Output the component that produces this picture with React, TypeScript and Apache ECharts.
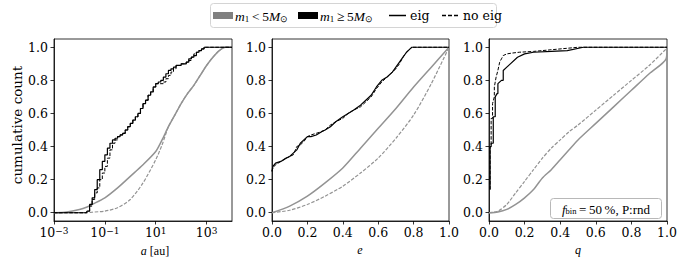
import React, { useEffect, useRef } from "react";
import * as echarts from "echarts";

// ---------- tick values ----------
const yTicks = [0, 0.2, 0.4, 0.6, 0.8, 1.0];
const aTicks = [0.001, 0.1, 10, 1000];
const linTicks = [0, 0.2, 0.4, 0.6, 0.8, 1.0];

// ---------- panel a : log10(a [au]) grids and cumulative fractions ----------
const aLogGridLow = [-3, -2.5, -2, -1.7, -1.5, -1, -0.5, 0, 0.5, 1, 1.25, 1.5, 1.75, 2, 2.25, 2.5, 2.75, 3, 3.25, 3.5, 3.75, 4];
const aLowEig = [0, 0.005, 0.02, 0.035, 0.05, 0.09, 0.15, 0.22, 0.29, 0.37, 0.44, 0.52, 0.59, 0.66, 0.72, 0.77, 0.83, 0.89, 0.94, 0.98, 1.0, 1.0];
const aLowNoEig = [0, 0, 0, 0, 0.003, 0.01, 0.03, 0.08, 0.18, 0.32, 0.41, 0.52, 0.59, 0.66, 0.72, 0.77, 0.83, 0.89, 0.94, 0.98, 1.0, 1.0];

const aLogGridHigh = [-3, -1.72, -1.7, -1.6, -1.5, -1.4, -1.3, -1.2, -1.1, -1.0, -0.9, -0.8, -0.7, -0.6, -0.5, -0.4, -0.3, -0.2, -0.1, 0, 0.1, 0.2, 0.3, 0.4, 0.5, 0.6, 0.7, 0.8, 0.9, 1.0, 1.1, 1.2, 1.3, 1.4, 1.5, 1.6, 1.7, 1.8, 1.9, 2.0, 2.1, 2.2, 2.3, 2.4, 2.5, 2.6, 2.7, 2.8, 2.9, 4];
const aHighEig = [0, 0, 0.01, 0.05, 0.09, 0.14, 0.20, 0.26, 0.31, 0.35, 0.39, 0.42, 0.44, 0.45, 0.46, 0.47, 0.48, 0.50, 0.52, 0.54, 0.56, 0.58, 0.60, 0.63, 0.66, 0.68, 0.71, 0.73, 0.76, 0.78, 0.79, 0.80, 0.82, 0.84, 0.86, 0.87, 0.88, 0.89, 0.89, 0.90, 0.90, 0.91, 0.93, 0.94, 0.95, 0.97, 0.98, 0.99, 1.0, 1.0];
const aHighNoEig = [0, 0, 0.01, 0.04, 0.08, 0.12, 0.15, 0.20, 0.24, 0.28, 0.33, 0.38, 0.42, 0.44, 0.46, 0.47, 0.48, 0.50, 0.52, 0.54, 0.56, 0.58, 0.60, 0.63, 0.66, 0.68, 0.71, 0.73, 0.76, 0.78, 0.78, 0.78, 0.79, 0.81, 0.83, 0.85, 0.87, 0.89, 0.89, 0.90, 0.90, 0.91, 0.92, 0.94, 0.96, 0.97, 0.98, 0.99, 1.0, 1.0];

// ---------- panel e ----------
const eGridLow = [0, 0.1, 0.2, 0.3, 0.4, 0.5, 0.6, 0.7, 0.8, 0.9, 1.0];
const eLowEig = [0, 0.04, 0.10, 0.18, 0.27, 0.39, 0.51, 0.63, 0.76, 0.88, 1.0];
const eLowNoEig = [0, 0.015, 0.05, 0.10, 0.16, 0.24, 0.33, 0.45, 0.59, 0.78, 1.0];

const eGridHigh = [0, 0.005, 0.02, 0.05, 0.08, 0.10, 0.12, 0.14, 0.16, 0.18, 0.20, 0.22, 0.25, 0.28, 0.30, 0.33, 0.36, 0.40, 0.43, 0.46, 0.50, 0.53, 0.56, 0.59, 0.62, 0.65, 0.68, 0.70, 0.72, 0.74, 0.76, 0.78, 0.79, 1.0];
const eHighEig = [0.25, 0.28, 0.30, 0.31, 0.33, 0.34, 0.36, 0.38, 0.42, 0.44, 0.46, 0.46, 0.47, 0.49, 0.50, 0.52, 0.55, 0.58, 0.60, 0.62, 0.65, 0.68, 0.71, 0.76, 0.80, 0.82, 0.85, 0.88, 0.91, 0.94, 0.97, 0.99, 1.0, 1.0];
const eHighNoEig = [0.25, 0.27, 0.29, 0.31, 0.33, 0.34, 0.35, 0.40, 0.41, 0.43, 0.46, 0.47, 0.48, 0.49, 0.50, 0.53, 0.55, 0.57, 0.60, 0.62, 0.64, 0.67, 0.70, 0.75, 0.79, 0.82, 0.85, 0.87, 0.90, 0.94, 0.97, 0.99, 1.0, 1.0];

// ---------- panel q ----------
const qGridLow = [0, 0.05, 0.1, 0.15, 0.2, 0.25, 0.3, 0.35, 0.4, 0.45, 0.5, 0.6, 0.7, 0.8, 0.9, 0.995, 1.0];
const qLowEig = [0, 0.005, 0.02, 0.05, 0.09, 0.14, 0.21, 0.26, 0.32, 0.38, 0.44, 0.54, 0.64, 0.74, 0.84, 0.93, 1.0];
const qLowNoEig = [0, 0.01, 0.05, 0.12, 0.19, 0.26, 0.33, 0.39, 0.44, 0.49, 0.53, 0.62, 0.71, 0.80, 0.89, 0.99, 1.0];

const qGridHighEig = [0.006, 0.006, 0.012, 0.012, 0.024, 0.024, 0.035, 0.035, 0.045, 0.05, 0.05, 0.07, 0.08, 0.08, 0.1, 0.12, 0.16, 0.2, 0.25, 0.35, 0.44, 0.53, 1.0];
const qHighEig = [0.14, 0.40, 0.40, 0.42, 0.42, 0.58, 0.58, 0.70, 0.72, 0.72, 0.78, 0.80, 0.80, 0.86, 0.88, 0.90, 0.94, 0.96, 0.97, 0.975, 0.98, 1.0, 1.0];
const qGridHighNoEig = [0.006, 0.006, 0.012, 0.012, 0.02, 0.02, 0.03, 0.03, 0.04, 0.05, 0.06, 0.07, 0.08, 0.1, 0.13, 0.17, 0.25, 0.35, 0.5, 1.0];
const qHighNoEig = [0.14, 0.40, 0.40, 0.57, 0.57, 0.66, 0.70, 0.76, 0.82, 0.86, 0.91, 0.93, 0.95, 0.96, 0.965, 0.97, 0.975, 0.985, 1.0, 1.0];

// ---------- labels ----------
const xLabels = ["a", "e", "q"];
const yLabel = "cumulative count";

const GRAY = "#939393";
const BLACK = "#000";
const SERIF = '"DejaVu Serif"';
const TIMES = '"Liberation Serif"';

const pairs = (xs: number[], ys: number[]) => xs.map((x, i) => [x, ys[i]]);
const pow10 = (xs: number[]) => xs.map((l) => Math.pow(10, l));

const grids = [
  { left: 54, top: 39, width: 178, height: 182 },
  { left: 272, top: 39, width: 177, height: 182 },
  { left: 489, top: 39, width: 178, height: 182 },
];

export default function App() {
  const ref = useRef<HTMLDivElement>(null);
  useEffect(() => {
    if (!ref.current) return;
    const chart = echarts.init(ref.current, undefined, { renderer: "svg" });

    const tickStyle = { show: true, inside: false, length: 3.5, lineStyle: { color: "#000", width: 0.8 } };
    const labelBase = { color: "#000", fontFamily: SERIF, fontSize: 12.5 };

    const yAxes = grids.map((_, i) => ({
      type: "value",
      gridIndex: i,
      min: -0.05,
      max: 1.05,
      axisLine: { show: true, lineStyle: { color: "#000", width: 0.8 } },
      axisTick: { ...tickStyle, customValues: yTicks },
      axisLabel: { ...labelBase, margin: 6, customValues: yTicks, formatter: (v: number) => v.toFixed(1) },
      splitLine: { show: false },
    }));

    const supMinus = (e: number) => (e < 0 ? "\u2212" + Math.abs(e) : String(e));
    const xAxes: any[] = [
      {
        type: "log",
        logBase: 10,
        gridIndex: 0,
        min: 0.001,
        max: 10000,
        axisLine: { show: true, onZero: false, lineStyle: { color: "#000", width: 0.8 } },
        axisTick: { ...tickStyle, customValues: aTicks },
        minorTick: { show: false },
        axisLabel: {
          ...labelBase,
          margin: 5,
          customValues: aTicks,
          formatter: (v: number) => `{b|10}{s|${supMinus(Math.round(Math.log10(v)))}}`,
          rich: {
            b: { fontFamily: SERIF, fontSize: 12.5, color: "#000", verticalAlign: "bottom" },
            s: { fontFamily: SERIF, fontSize: 9, color: "#000", verticalAlign: "top" },
          },
        },
        splitLine: { show: false },
      },
      ...[1, 2].map((i) => ({
        type: "value",
        gridIndex: i,
        min: 0,
        max: 1,
        axisLine: { show: true, onZero: false, lineStyle: { color: "#000", width: 0.8 } },
        axisTick: { ...tickStyle, customValues: linTicks },
        axisLabel: { ...labelBase, margin: 5, customValues: linTicks, formatter: (v: number) => v.toFixed(1) },
        splitLine: { show: false },
      })),
    ];

    const line = (idx: number, data: number[][], color: string, width: number, dashed: boolean, smooth: boolean, step: boolean) => ({
      type: "line",
      xAxisIndex: idx,
      yAxisIndex: idx,
      data,
      symbol: "none",
      showSymbol: false,
      silent: true,
      step: step ? "end" : false,
      smooth: smooth ? 0.25 : false,
      lineStyle: { color, width, type: dashed ? [3.5, 1.6] : "solid" },
      z: color === BLACK ? 3 : 2,
    });

    const series = [
      line(0, pairs(pow10(aLogGridLow), aLowEig), GRAY, 1.5, false, true, false),
      line(0, pairs(pow10(aLogGridLow), aLowNoEig), GRAY, 1.2, true, true, false),
      line(0, pairs(pow10(aLogGridHigh), aHighEig), BLACK, 1.2, false, false, true),
      line(0, pairs(pow10(aLogGridHigh), aHighNoEig), BLACK, 1.0, true, false, true),
      line(1, pairs(eGridLow, eLowEig), GRAY, 1.5, false, true, false),
      line(1, pairs(eGridLow, eLowNoEig), GRAY, 1.2, true, true, false),
      line(1, pairs(eGridHigh, eHighEig), BLACK, 1.2, false, false, false),
      line(1, pairs(eGridHigh, eHighNoEig), BLACK, 1.0, true, false, false),
      line(2, pairs(qGridLow, qLowEig), GRAY, 1.5, false, true, false),
      line(2, pairs(qGridLow, qLowNoEig), GRAY, 1.2, true, true, false),
      line(2, pairs(qGridHighEig, qHighEig), BLACK, 1.2, false, false, false),
      line(2, pairs(qGridHighNoEig, qHighNoEig), BLACK, 1.0, true, false, false),
    ];

    const mathRich = {
      i: { fontFamily: TIMES, fontStyle: "italic", fontSize: 13.5, fill: "#000", verticalAlign: "bottom" },
      n: { fontFamily: TIMES, fontSize: 13.5, fill: "#000", verticalAlign: "bottom" },
      s: { fontFamily: TIMES, fontSize: 9, fill: "#000", verticalAlign: "bottom", padding: [0, 0, 0, 0] },
    };

    const graphic: any[] = [
      {
        type: "text",
        x: 17,
        y: 125,
        rotation: Math.PI / 2,
        style: { text: yLabel, font: `13.5px ${SERIF}`, fill: "#000", align: "center", verticalAlign: "middle" },
      },
      {
        type: "text",
        x: 155,
        y: 251,
        style: {
          text: `{i|${xLabels[0]}}{n| [au]}`,
          rich: { i: { ...mathRich.i, fontSize: 12 }, n: { ...mathRich.n, fontSize: 12 } },
          align: "center",
          verticalAlign: "middle",
        },
      },
      { type: "text", x: 360, y: 250, style: { text: xLabels[1], font: `italic 12px ${TIMES}`, fill: "#000", align: "center", verticalAlign: "middle" } },
      { type: "text", x: 578, y: 250, style: { text: xLabels[2], font: `italic 12px ${TIMES}`, fill: "#000", align: "center", verticalAlign: "middle" } },
      { type: "rect", shape: { x: 210.5, y: 3.5, width: 286, height: 24, r: 3 }, style: { fill: "#fff", stroke: "#d4d4d4", lineWidth: 1 }, z: 10 },
      { type: "rect", shape: { x: 213, y: 12, width: 20, height: 7 }, style: { fill: "#808080" }, z: 11 },
      {
        type: "text",
        x: 235,
        y: 16,
        z: 11,
        style: { text: "{i|m}{s|1}{n|\u2009<\u20095}{i|M}{s|\u2299}", rich: mathRich, verticalAlign: "middle" },
      },
      { type: "rect", shape: { x: 298, y: 12, width: 20, height: 7 }, style: { fill: "#000" }, z: 11 },
      {
        type: "text",
        x: 320,
        y: 16,
        z: 11,
        style: { text: "{i|m}{s|1}{n|\u2009\u2265\u20095}{i|M}{s|\u2299}", rich: mathRich, verticalAlign: "middle" },
      },
      { type: "line", shape: { x1: 389, y1: 15.5, x2: 406, y2: 15.5 }, style: { stroke: "#000", lineWidth: 1.5 }, z: 11 },
      { type: "text", x: 410, y: 15, z: 11, style: { text: "eig", font: `12.5px ${SERIF}`, fill: "#000", verticalAlign: "middle" } },
      { type: "line", shape: { x1: 442, y1: 15.5, x2: 459, y2: 15.5 }, style: { stroke: "#000", lineWidth: 1.5, lineDash: [4, 2] }, z: 11 },
      { type: "text", x: 463, y: 15, z: 11, style: { text: "no eig", font: `12.5px ${SERIF}`, fill: "#000", verticalAlign: "middle" } },
      { type: "rect", shape: { x: 550.5, y: 198.5, width: 111, height: 20, r: 3 }, style: { fill: "#fff", stroke: "#b8b8b8", lineWidth: 1 }, z: 10 },
      {
        type: "text",
        x: 606,
        y: 209,
        z: 11,
        style: {
          text: "{i|f}{s|bin}{n|\u2009=\u200950\u2009%, P:rnd}",
          rich: {
            i: { ...mathRich.i, fontSize: 13 },
            n: { ...mathRich.n, fontSize: 13 },
            s: { ...mathRich.s, fontSize: 8.5 },
          },
          align: "center",
          verticalAlign: "middle",
        },
      },
    ];

    chart.setOption({
      animation: false,
      backgroundColor: "#fff",
      grid: grids.map((g) => ({ ...g, show: true, borderColor: "#000", borderWidth: 0.8, backgroundColor: "transparent" })),
      xAxis: xAxes,
      yAxis: yAxes,
      series,
      graphic,
    });
    return () => chart.dispose();
  }, []);

  return <div ref={ref} style={{ position: "fixed", left: 0, top: 0, width: 681, height: 264 }} />;
}
